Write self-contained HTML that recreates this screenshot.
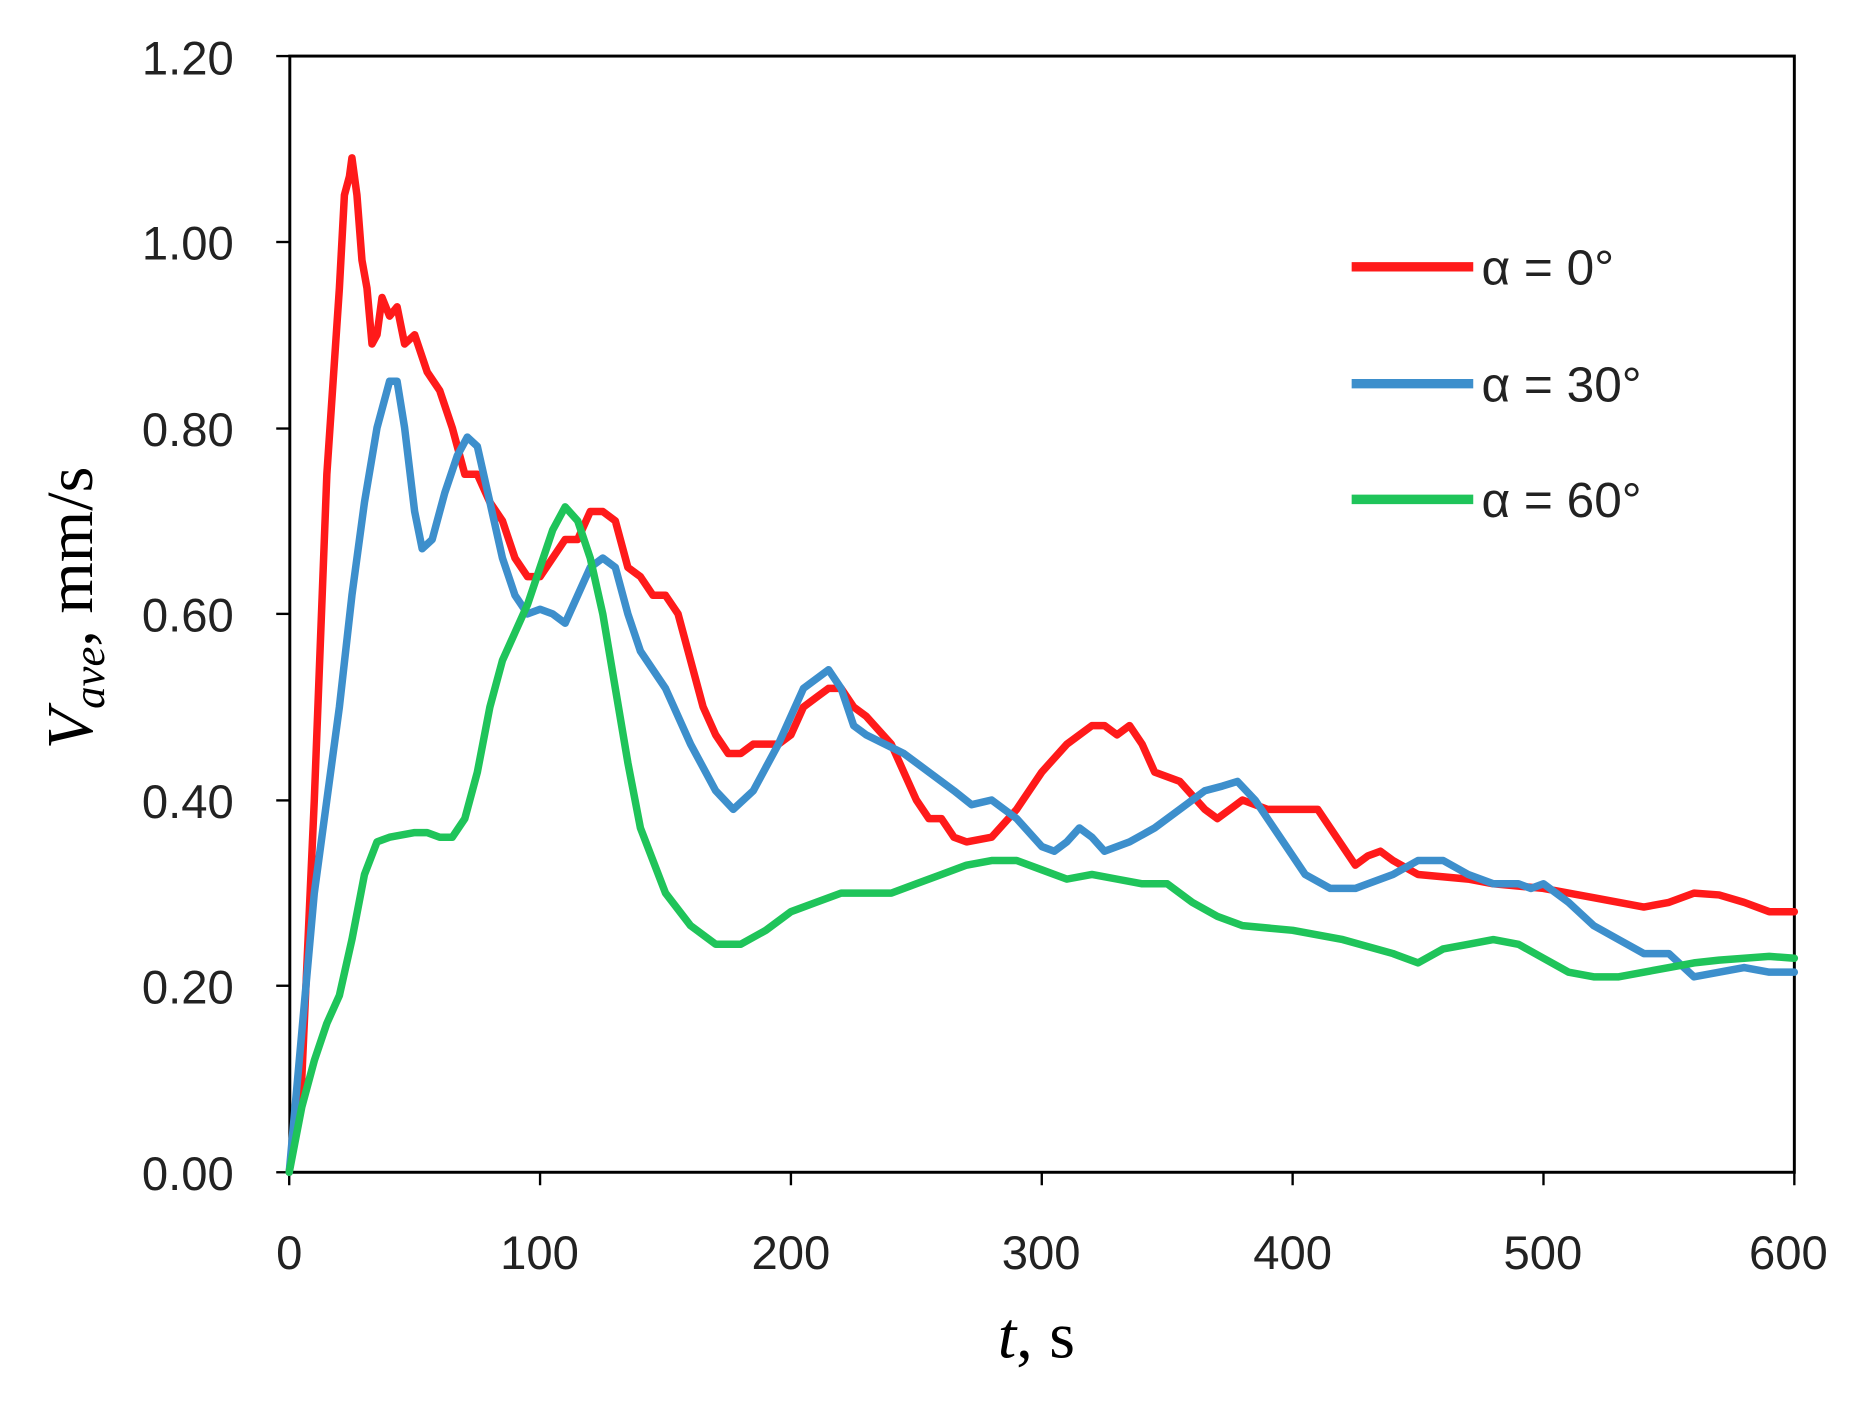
<!DOCTYPE html>
<html><head><meta charset="utf-8"><style>html,body{margin:0;padding:0;background:#fff}svg{display:block}</style></head>
<body>
<svg width="1851" height="1419" viewBox="0 0 1568 1202" preserveAspectRatio="none" xmlns="http://www.w3.org/2000/svg">
<rect x="0" y="0" width="1568" height="1202" fill="#fff"/>
<rect x="245.5" y="47.5" width="1274.5" height="945.5" fill="none" stroke="#000" stroke-width="2.5"/>
<g stroke="#000" stroke-width="2">
<line x1="234" y1="47.5" x2="245" y2="47.5"/><line x1="234" y1="205" x2="245" y2="205"/><line x1="234" y1="363" x2="245" y2="363"/><line x1="234" y1="520" x2="245" y2="520"/><line x1="234" y1="678" x2="245" y2="678"/><line x1="234" y1="835" x2="245" y2="835"/><line x1="234" y1="993" x2="245" y2="993"/>
<line x1="245" y1="993" x2="245" y2="1004"/><line x1="457.5" y1="993" x2="457.5" y2="1004"/><line x1="670" y1="993" x2="670" y2="1004"/><line x1="882.5" y1="993" x2="882.5" y2="1004"/><line x1="1095" y1="993" x2="1095" y2="1004"/><line x1="1307.5" y1="993" x2="1307.5" y2="1004"/><line x1="1520" y1="993" x2="1520" y2="1004"/>
</g>
<g font-family="Liberation Sans, sans-serif" font-size="40" fill="#222" text-anchor="end">
<text x="198" y="63">1.20</text><text x="198" y="220">1.00</text><text x="198" y="378">0.80</text><text x="198" y="535">0.60</text><text x="198" y="693">0.40</text><text x="198" y="850">0.20</text><text x="198" y="1008">0.00</text>
</g>
<g font-family="Liberation Sans, sans-serif" font-size="40" fill="#222" text-anchor="middle">
<text x="245" y="1075">0</text><text x="457" y="1075">100</text><text x="670" y="1075">200</text><text x="882" y="1075">300</text><text x="1095" y="1075">400</text><text x="1307" y="1075">500</text><text x="1515" y="1075">600</text>
</g>
<text x="878" y="1150" font-family="Liberation Serif, serif" font-size="56" text-anchor="middle"><tspan font-style="italic">t</tspan>, s</text>
<text transform="translate(78,515) rotate(-90)" font-family="Liberation Serif, serif" font-size="56" text-anchor="middle"><tspan font-style="italic">V</tspan><tspan font-style="italic" font-size="38" dy="10">ave</tspan><tspan dy="-10">,  mm/s</tspan></text>
<g transform="translate(245,993) scale(2.125,-788.3)" fill="none" stroke-width="7.5" stroke-linejoin="round" stroke-linecap="round">
<polyline vector-effect="non-scaling-stroke" stroke="#ff1a1a" points="0,0 5,0.1 10,0.4 15,0.75 20,0.95 22,1.05 24,1.07 25,1.09 27,1.05 29,0.98 31,0.95 33,0.89 35,0.9 37,0.94 40,0.92 43,0.93 46,0.89 50,0.9 55,0.86 60,0.84 65,0.8 70,0.75 75,0.75 80,0.72 85,0.7 90,0.66 95,0.64 100,0.64 105,0.66 110,0.68 115,0.68 120,0.71 125,0.71 130,0.7 135,0.65 140,0.64 145,0.62 150,0.62 155,0.6 160,0.55 165,0.5 170,0.47 175,0.45 180,0.45 185,0.46 190,0.46 195,0.46 200,0.47 205,0.5 210,0.51 215,0.52 220,0.52 225,0.5 230,0.49 240,0.46 245,0.43 250,0.4 255,0.38 260,0.38 265,0.36 270,0.355 280,0.36 290,0.39 300,0.43 310,0.46 320,0.48 325,0.48 330,0.47 335,0.48 340,0.46 345,0.43 355,0.42 365,0.39 370,0.38 375,0.39 380,0.4 390,0.39 400,0.39 405,0.39 410,0.39 420,0.35 425,0.33 430,0.34 435,0.345 440,0.335 450,0.32 470,0.315 480,0.31 500,0.305 520,0.295 540,0.285 550,0.29 560,0.3 570,0.298 580,0.29 590,0.28 600,0.28"/>
<polyline vector-effect="non-scaling-stroke" stroke="#3d8fcc" points="0,0 5,0.15 10,0.3 15,0.4 20,0.5 25,0.62 30,0.72 35,0.8 40,0.85 43,0.85 46,0.8 50,0.71 53,0.67 57,0.68 62,0.73 67,0.77 71,0.79 75,0.78 80,0.72 85,0.66 90,0.62 95,0.6 100,0.605 105,0.6 110,0.59 115,0.62 120,0.65 125,0.66 130,0.65 135,0.6 140,0.56 150,0.52 160,0.46 170,0.41 177,0.39 185,0.41 195,0.46 205,0.52 215,0.54 220,0.52 225,0.48 230,0.47 245,0.45 255,0.43 265,0.41 272,0.395 280,0.4 290,0.38 300,0.35 305,0.345 310,0.355 315,0.37 320,0.36 325,0.345 335,0.355 345,0.37 355,0.39 365,0.41 372,0.415 378,0.42 385,0.4 395,0.36 405,0.32 415,0.305 425,0.305 440,0.32 450,0.335 460,0.335 470,0.32 480,0.31 490,0.31 495,0.305 500,0.31 510,0.29 520,0.265 530,0.25 540,0.235 550,0.235 560,0.21 570,0.215 580,0.22 590,0.215 600,0.215"/>
<polyline vector-effect="non-scaling-stroke" stroke="#1fc45a" points="0,0 5,0.07 10,0.12 15,0.16 20,0.19 25,0.25 30,0.32 35,0.355 40,0.36 50,0.365 55,0.365 60,0.36 65,0.36 70,0.38 75,0.43 80,0.5 85,0.55 90,0.58 95,0.61 100,0.65 105,0.69 110,0.715 115,0.7 120,0.66 125,0.6 130,0.52 135,0.44 140,0.37 150,0.3 160,0.265 170,0.245 180,0.245 190,0.26 200,0.28 210,0.29 220,0.3 230,0.3 240,0.3 250,0.31 260,0.32 270,0.33 280,0.335 290,0.335 300,0.325 310,0.315 320,0.32 330,0.315 340,0.31 350,0.31 360,0.29 370,0.275 380,0.265 400,0.26 420,0.25 440,0.235 450,0.225 460,0.24 470,0.245 480,0.25 490,0.245 500,0.23 510,0.215 520,0.21 530,0.21 540,0.215 550,0.22 560,0.225 570,0.228 580,0.23 590,0.232 600,0.23"/>
</g>
<g stroke-width="8">
<line x1="1145" y1="226" x2="1248" y2="226" stroke="#ff1a1a"/>
<line x1="1145" y1="325" x2="1248" y2="325" stroke="#3d8fcc"/>
<line x1="1145" y1="423" x2="1248" y2="423" stroke="#1fc45a"/>
</g>
<g font-family="Liberation Sans, sans-serif" font-size="42" fill="#222">
<text x="1255" y="241">α = 0°</text><text x="1255" y="340">α = 30°</text><text x="1255" y="438">α = 60°</text>
</g>
</svg>
</body></html>
